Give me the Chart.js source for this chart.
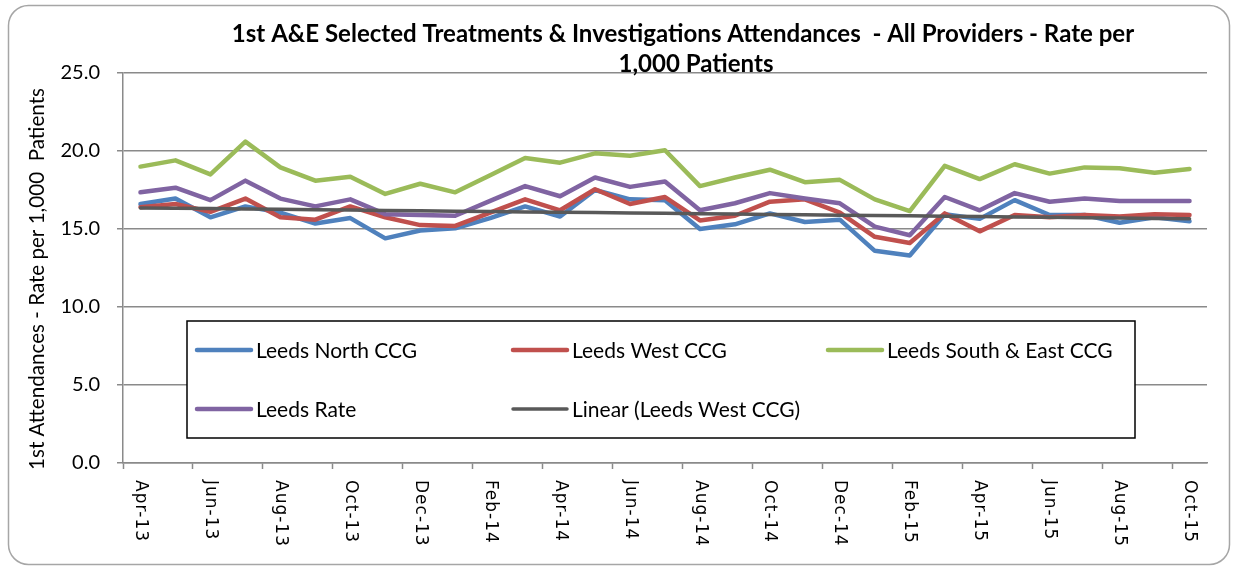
<!DOCTYPE html>
<html>
<head>
<meta charset="utf-8">
<script src="https://cdn.jsdelivr.net/npm/chart.js@4/dist/chart.umd.min.js"></script>
<style>
  html, body { margin: 0; padding: 0; background: #ffffff; }
  #wrap { width: 1234px; height: 568px; position: relative; }
</style>
</head>
<body>
<div id="wrap"><canvas id="c" width="1234" height="568"></canvas></div>
<script>
// ---- Data ----
const months = ["Apr-13","May-13","Jun-13","Jul-13","Aug-13","Sep-13","Oct-13","Nov-13","Dec-13","Jan-14",
  "Feb-14","Mar-14","Apr-14","May-14","Jun-14","Jul-14","Aug-14","Sep-14","Oct-14","Nov-14",
  "Dec-14","Jan-15","Feb-15","Mar-15","Apr-15","May-15","Jun-15","Jul-15","Aug-15","Sep-15","Oct-15"];

const leedsNorth = [16.6, 16.95, 15.75, 16.45, 16.05, 15.35, 15.7, 14.4, 14.9, 15.05,
  15.7, 16.45, 15.8, 17.5, 16.9, 16.85, 15.0, 15.3, 16.0, 15.45,
  15.6, 13.6, 13.3, 15.95, 15.65, 16.85, 15.9, 15.9, 15.4, 15.75, 15.5];

const leedsWest = [16.4, 16.6, 16.1, 16.95, 15.75, 15.6, 16.45, 15.75, 15.25, 15.2,
  16.05, 16.9, 16.2, 17.55, 16.6, 17.05, 15.55, 15.85, 16.75, 16.9,
  16.05, 14.5, 14.1, 16.0, 14.85, 15.9, 15.75, 15.9, 15.8, 15.95, 15.9];

const leedsSouthEast = [19.0, 19.4, 18.5, 20.6, 18.95, 18.1, 18.35, 17.25, 17.9, 17.35,
  18.45, 19.55, 19.25, 19.85, 19.7, 20.05, 17.75, 18.3, 18.8, 18.0,
  18.15, 16.9, 16.15, 19.05, 18.2, 19.15, 18.55, 18.95, 18.9, 18.6, 18.85];

const leedsRate = [17.35, 17.65, 16.85, 18.1, 16.95, 16.45, 16.9, 15.95, 15.9, 15.85,
  16.8, 17.75, 17.1, 18.3, 17.7, 18.05, 16.2, 16.65, 17.3, 16.95,
  16.65, 15.15, 14.6, 17.05, 16.2, 17.3, 16.75, 16.95, 16.8, 16.8, 16.8];

const seriesNames = ["Leeds North CCG", "Leeds West CCG", "Leeds South & East CCG", "Leeds Rate", "Linear (Leeds West CCG)"];
const yTicks = [0, 5, 10, 15, 20, 25];
const titleLines = ["1st A&E Selected Treatments & Investigations Attendances  - All Providers - Rate per", "1,000 Patients"];
const yTitle = "1st Attendances - Rate per 1,000  Patients";

// Excel-style linear trendline (least squares) of Leeds West CCG
function linearTrend(vals) {
  const n = vals.length;
  let sx = 0, sy = 0, sxy = 0, sxx = 0;
  vals.forEach((v, i) => { const x = i + 1; sx += x; sy += v; sxy += x * v; sxx += x * x; });
  const b = (n * sxy - sx * sy) / (n * sxx - sx * sx);
  const a = (sy - b * sx) / n;
  return vals.map((v, i) => a + b * (i + 1));
}
const westTrend = linearTrend(leedsWest);

// ---- Styles ----
const colors = ["#4F81BD", "#C0504D", "#9BBB59", "#8064A2", "#595959"];
const gridColor = "#8A8A8A";
const FONT = "Lato, 'Open Sans', sans-serif";

function lineDs(label, data, color, order, width) {
  return {
    label, data, borderColor: color, backgroundColor: color,
    borderWidth: width, pointRadius: 0, pointHoverRadius: 0, tension: 0,
    borderCapStyle: "round", borderJoinStyle: "round", fill: false, order
  };
}

const decorPlugin = {
  id: "decor",
  beforeDraw(chart) {
    const ctx = chart.ctx;
    ctx.save();
    ctx.fillStyle = "#ffffff";
    ctx.fillRect(0, 0, chart.width, chart.height);
    // outer rounded frame
    ctx.beginPath();
    ctx.roundRect(8.5, 5.5, 1221, 559, 20);
    ctx.strokeStyle = "#A6A6A6";
    ctx.lineWidth = 1.5;
    ctx.stroke();
    ctx.restore();
  },
  afterDatasetsDraw(chart) {
    const ctx = chart.ctx;
    // legend box
    ctx.save();
    const bx = 187, by = 321, bw = 948, bh = 117;
    ctx.fillStyle = "#ffffff";
    ctx.fillRect(bx, by, bw, bh);
    ctx.strokeStyle = "#000000";
    ctx.lineWidth = 1.5;
    ctx.strokeRect(bx, by, bw, bh);
    const cols = [197, 513, 828];
    const rows = [350, 409];
    ctx.font = "21px " + FONT;
    ctx.textBaseline = "middle";
    ctx.textAlign = "left";
    chart.data.datasets.forEach((ds, i) => {
      const x = cols[i % 3], y = rows[Math.floor(i / 3)];
      ctx.beginPath();
      ctx.moveTo(x, y); ctx.lineTo(x + 54, y);
      ctx.strokeStyle = ds.borderColor;
      ctx.lineWidth = i === 4 ? 3.5 : 4.5;
      ctx.lineCap = "round";
      ctx.stroke();
      ctx.fillStyle = "#000000";
      ctx.fillText(ds.label, x + 59, y + 1);
    });
    ctx.restore();
  },
  afterDraw(chart) {
    const ctx = chart.ctx;
    ctx.save();
    // title
    ctx.fillStyle = "#000000";
    ctx.textAlign = "center";
    ctx.textBaseline = "middle";
    let fs = 22;
    ctx.font = "bold " + fs + "px " + FONT;
    const w = ctx.measureText(titleLines[0]).width;
    fs = fs * 903 / w;
    ctx.font = "bold " + fs.toFixed(2) + "px " + FONT;
    ctx.fillText(titleLines[0], 683, 34);
    ctx.fillText(titleLines[1], 696, 64);
    // y-axis title
    ctx.save();
    ctx.translate(37, 279);
    ctx.rotate(-Math.PI / 2);
    ctx.font = "20.6px " + FONT;
    ctx.fillText(yTitle, 0, 0);
    ctx.restore();
    // x labels (every second month), rotated clockwise
    const xs = chart.scales.x;
    ctx.font = "17px 'DejaVu Sans', sans-serif";
    ctx.letterSpacing = "1px";
    ctx.textAlign = "left";
    ctx.textBaseline = "middle";
    months.forEach((m, i) => {
      if (i % 2 !== 0) return;
      const px = xs.getPixelForValue(i);
      ctx.save();
      ctx.translate(px, 480);
      ctx.rotate(Math.PI / 2);
      ctx.fillText(m, 0, 0);
      ctx.restore();
    });
    ctx.restore();
  }
};

new Chart(document.getElementById("c"), {
  type: "line",
  data: {
    labels: months,
    datasets: [
      lineDs(seriesNames[0], leedsNorth, colors[0], 4, 4.5),
      lineDs(seriesNames[1], leedsWest, colors[1], 3, 4.5),
      lineDs(seriesNames[2], leedsSouthEast, colors[2], 2, 4.5),
      lineDs(seriesNames[3], leedsRate, colors[3], 1, 4.5),
      lineDs(seriesNames[4], westTrend, colors[4], 0, 3.5)
    ]
  },
  options: {
    responsive: false,
    animation: false,
    events: [],
    layout: { padding: { left: 0, top: 73, right: 27, bottom: 0 } },
    plugins: { legend: { display: false }, title: { display: false }, tooltip: { enabled: false } },
    scales: {
      x: {
        type: "category",
        offset: true,
        grid: {
          offset: true, drawOnChartArea: false, drawTicks: true, tickLength: 6, tickWidth: 1.5,
          tickColor: (c) => (c.index !== undefined && c.index % 2 === 0) ? gridColor : "rgba(0,0,0,0)"
        },
        border: { display: true, color: gridColor, width: 1.5 },
        ticks: { display: false },
        afterFit: (s) => { s.height = 105; }
      },
      y: {
        min: 0, max: 25,
        afterBuildTicks: (s) => { s.ticks = yTicks.map(v => ({ value: v })); },
        grid: { color: gridColor, lineWidth: 1.5, drawTicks: true, tickLength: 6, tickColor: gridColor, tickWidth: 1.5 },
        border: { display: true, color: gridColor, width: 1.5 },
        ticks: {
          padding: 17, color: "#000000",
          font: { family: FONT, size: 20 },
          callback: (v) => Number(v).toFixed(1)
        },
        afterFit: (s) => { s.width = 123; }
      }
    }
  },
  plugins: [decorPlugin]
});
</script>
</body>
</html>
